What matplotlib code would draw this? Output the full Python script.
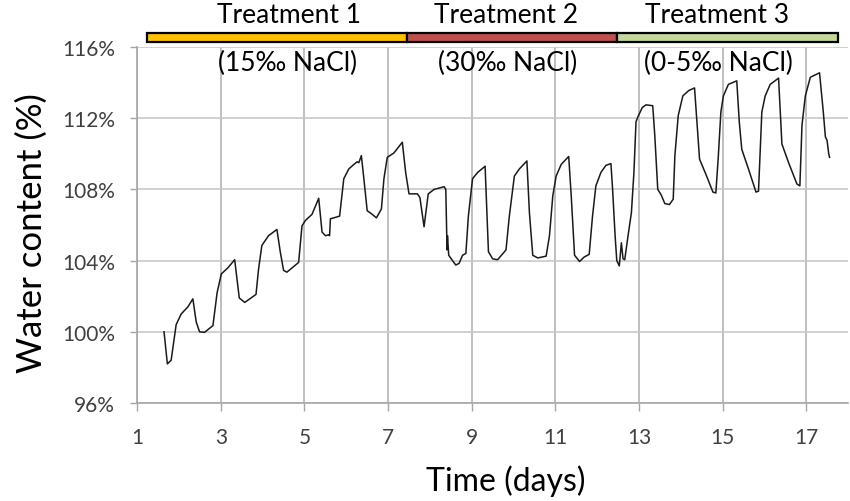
import matplotlib
matplotlib.use("Agg")
import matplotlib.pyplot as plt
from matplotlib.patches import Rectangle
import matplotlib.transforms as mtransforms
from matplotlib.ticker import FuncFormatter

plt.rcParams['font.family'] = ['Lato', 'DejaVu Sans']

# ---- data ----
days = [1.64, 1.72, 1.81, 1.93, 2.05, 2.21, 2.33, 2.41, 2.49, 2.61, 2.81, 2.91,
        3.01, 3.17, 3.33, 3.44, 3.57, 3.84, 3.90, 3.98, 4.14, 4.34, 4.42, 4.50,
        4.58, 4.86, 4.94, 5.02, 5.18, 5.34, 5.42, 5.50, 5.58, 5.60, 5.62, 5.70,
        5.84, 5.94, 6.06, 6.18, 6.26, 6.30, 6.36, 6.42, 6.50, 6.62, 6.72, 6.84,
        6.90, 6.98, 7.14, 7.34, 7.42, 7.50, 7.70, 7.76, 7.86, 7.96, 8.10, 8.34,
        8.38, 8.41, 8.42, 8.45, 8.54, 8.62, 8.70, 8.78, 8.86, 8.92, 9.02, 9.14,
        9.32, 9.40, 9.50, 9.62, 9.82, 9.90, 10.02, 10.14, 10.32, 10.38, 10.46,
        10.58, 10.78, 10.86, 10.94, 11.02, 11.14, 11.32, 11.38, 11.46, 11.58,
        11.69, 11.81, 11.89, 11.97, 12.09, 12.21, 12.33, 12.37, 12.43, 12.47,
        12.53, 12.58, 12.62, 12.66, 12.74, 12.82, 12.88, 12.93, 12.98, 13.08,
        13.17, 13.33, 13.38, 13.45, 13.53, 13.62, 13.73, 13.82, 13.86, 13.94,
        14.05, 14.19, 14.33, 14.45, 14.61, 14.77, 14.84, 14.90, 14.96, 15.02,
        15.14, 15.34, 15.40, 15.46, 15.62, 15.80, 15.86, 15.94, 16.02, 16.14,
        16.34, 16.42, 16.58, 16.78, 16.85, 16.90, 16.98, 17.10, 17.32, 17.41,
        17.46, 17.50, 17.54, 17.56]
water = [100.0, 98.2, 98.4, 100.4, 101.0, 101.4, 101.85, 100.55, 100.0, 99.97,
         100.35, 102.2, 103.25, 103.6, 104.05, 101.9, 101.65, 102.1, 103.5, 104.85,
         105.4, 105.75, 104.5, 103.45, 103.35, 103.9, 105.95, 106.25, 106.6, 107.5,
         105.6, 105.4, 105.45, 105.4, 106.35, 106.4, 106.5, 108.6, 109.15, 109.4,
         109.55, 109.5, 109.9, 108.6, 106.8, 106.6, 106.4, 106.9, 108.6, 109.8,
         110.05, 110.65, 108.95, 107.75, 107.75, 107.55, 105.9, 107.75, 108.0, 108.15,
         108.0, 104.6, 105.4, 104.3, 104.0, 103.75, 103.85, 104.3, 104.4, 106.5,
         108.6, 108.95, 109.3, 104.5, 104.1, 104.05, 104.6, 106.5, 108.75, 109.15,
         109.6, 106.7, 104.3, 104.15, 104.25, 105.4, 107.65, 108.75, 109.4, 109.85,
         107.65, 104.3, 103.95, 104.2, 104.35, 106.5, 108.2, 108.95, 109.35, 109.45,
         108.0, 105.4, 104.0, 103.7, 105.0, 104.1, 104.05, 105.4, 106.7, 108.95,
         111.8, 112.1, 112.6, 112.75, 112.7, 111.0, 108.0, 107.7, 107.2, 107.15,
         107.45, 109.9, 112.15, 113.25, 113.55, 113.7, 109.7, 108.8, 107.85, 107.8,
         109.9, 112.35, 113.25, 113.9, 114.1, 111.8, 110.25, 109.15, 107.85, 107.9,
         112.35, 113.25, 113.9, 114.25, 110.55, 109.5, 108.3, 108.2, 111.6, 113.25,
         114.3, 114.55, 112.35, 110.95, 110.75, 110.0, 109.8]

x_ticks = [1, 3, 5, 7, 9, 11, 13, 15, 17]
y_ticks = [96, 100, 104, 108, 112, 116]

treat_names = ["Treatment 1", "Treatment 2", "Treatment 3"]
treat_salinity = ["(15‰ NaCl)", "(30‰ NaCl)", "(0-5‰ NaCl)"]
treat_bounds = [1.24, 7.46, 12.48, 17.76]
treat_colors = ["#FFC000", "#C0504D", "#C3D69B"]
name_x = [4.63, 9.83, 14.86]
salinity_x = [4.60, 9.86, 14.90]

# ---- figure ----
fig = plt.figure(figsize=(8.5, 5.02), dpi=100)
ax = fig.add_axes([0.1615, 0.1952, 0.8361, 0.7092])

ax.plot(days, water, color="#1a1a1a", lw=1.1, zorder=3)

ax.set_xlim(1, 18)
ax.set_ylim(96, 116)
ax.set_xticks(x_ticks)
ax.set_yticks(y_ticks)
ax.yaxis.set_major_formatter(FuncFormatter(lambda v, p: f"{v:.0f}%"))

ax.grid(axis='x', color="#b4b4b4", lw=1.2)
ax.grid(axis='y', color="#c8c8c8", lw=1.2)
ax.set_axisbelow(True)

for s in ['top', 'right']:
    ax.spines[s].set_visible(False)
for s in ['left', 'bottom']:
    ax.spines[s].set_color("#a6a6a6")
    ax.spines[s].set_linewidth(1.2)

ax.tick_params(axis='x', length=6, width=1.0, color="#a6a6a6", pad=11,
               labelsize=15, labelcolor="#404040")
ax.tick_params(axis='y', length=5, width=1.0, color="#a6a6a6", pad=11,
               labelsize=15, labelcolor="#404040")

ax.set_xlabel("Time (days)", fontsize=23, color="#000000")
ax.xaxis.label.set_va('center')
ax.xaxis.set_label_coords(0.519, -0.216)
ax.set_ylabel("Water content (%)", fontsize=25, color="#000000")
ax.yaxis.label.set_va('center')
ax.yaxis.set_label_coords(-0.148, 0.48)

trans = mtransforms.blended_transform_factory(ax.transData, ax.transAxes)
for i in range(3):
    r = Rectangle((treat_bounds[i], 1.015), treat_bounds[i + 1] - treat_bounds[i], 0.0235,
                  transform=trans, facecolor=treat_colors[i], edgecolor="black",
                  lw=1.6, clip_on=False, zorder=5)
    ax.add_patch(r)
    ax.text(name_x[i], 1.09, treat_names[i], transform=trans, ha='center',
            va='center', fontsize=19, color="black")
    ax.text(salinity_x[i], 0.957, treat_salinity[i], transform=trans, ha='center',
            va='center', fontsize=19, color="black", zorder=4)

fig.savefig("out.png", dpi=100)
